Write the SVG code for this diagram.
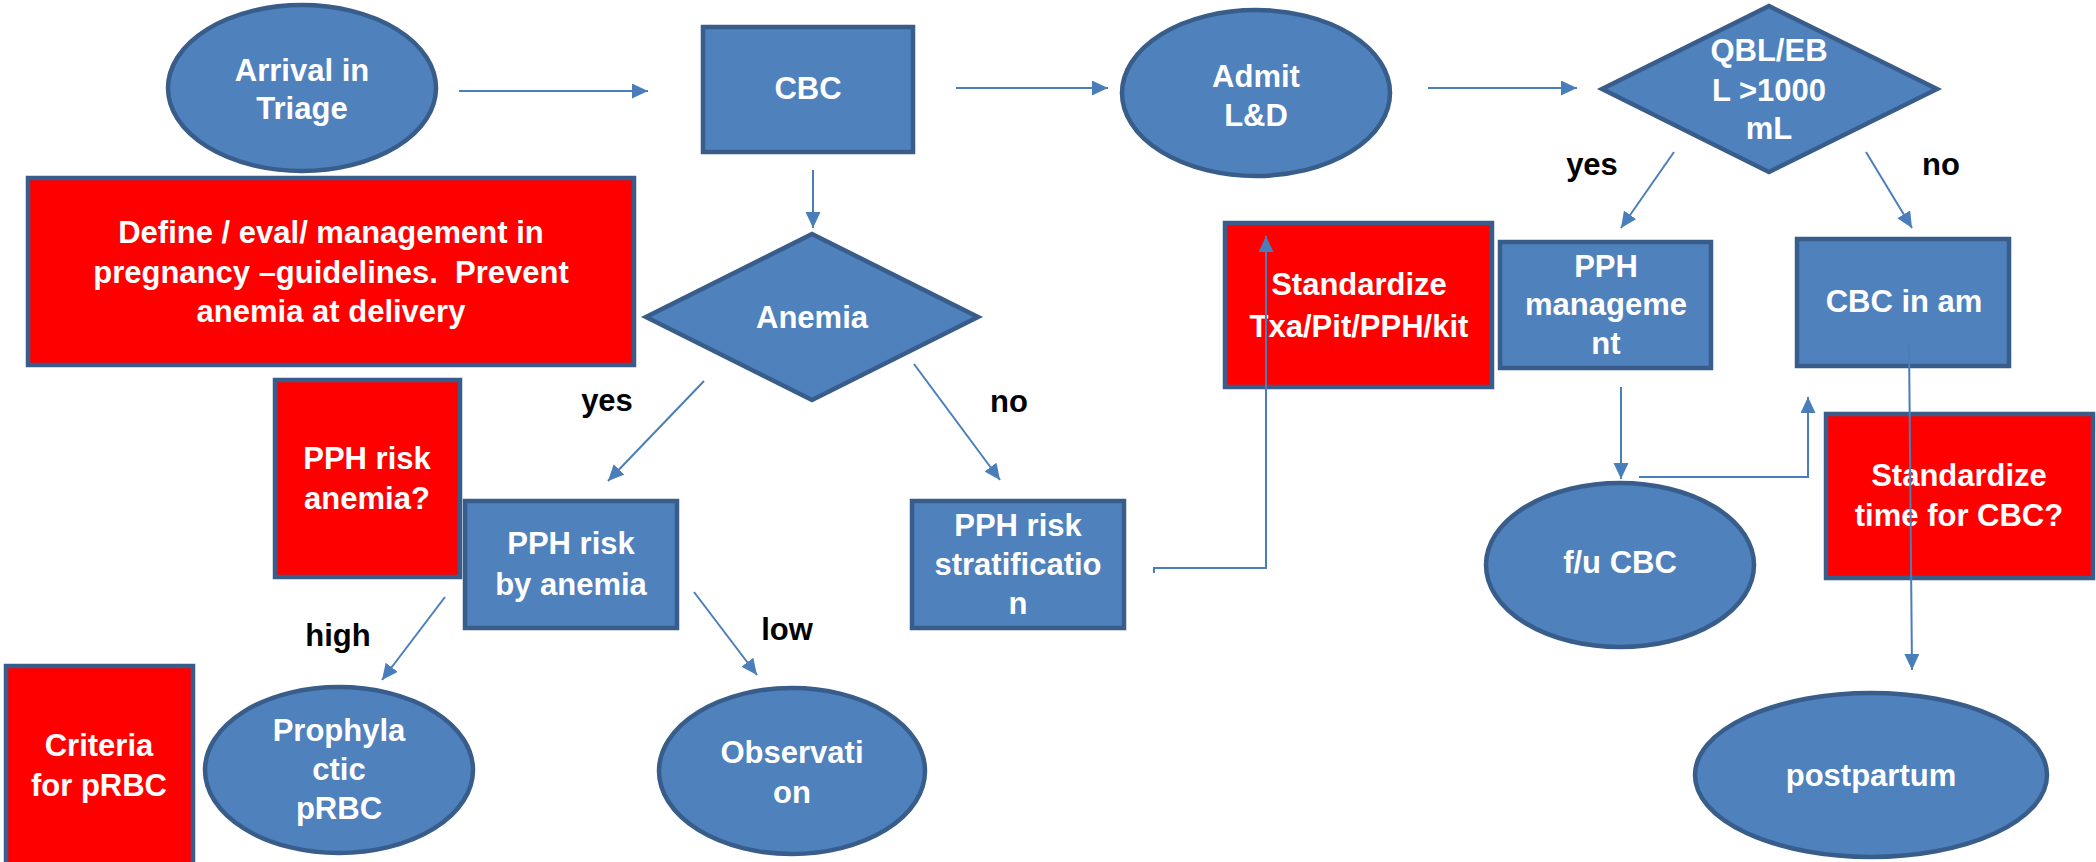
<svg xmlns="http://www.w3.org/2000/svg" width="2096" height="862" viewBox="0 0 2096 862">
<style>
.b{fill:#4F81BD;stroke:#385D8A;stroke-width:4.5}
.r{fill:#FF0000;stroke:#385D8A;stroke-width:4.5}
.t{font-family:"Liberation Sans",Arial,sans-serif;font-weight:bold;font-size:31px;fill:#FFFFFF;text-anchor:middle}
.l{font-family:"Liberation Sans",Arial,sans-serif;font-weight:bold;font-size:31px;fill:#000000;text-anchor:middle}
.c{fill:none;stroke:#4A7EBB;stroke-width:2}
.a{marker-end:url(#ah)}
</style>
<defs>
<marker id="ah" markerUnits="userSpaceOnUse" markerWidth="17" markerHeight="16" refX="16" refY="7.5" orient="auto">
<path d="M0,0 L16,7.5 L0,15 z" fill="#4A7EBB"/>
</marker>
</defs>
<rect width="2096" height="862" fill="#FFFFFF"/>

<g id="arrival">
<ellipse class="b" cx="302" cy="88" rx="134" ry="83"/>
<text class="t" x="302" y="81">Arrival in</text>
<text class="t" x="302" y="119">Triage</text>
</g>
<g id="cbc">
<rect class="b" x="703" y="27" width="210" height="125"/>
<text class="t" x="808" y="99">CBC</text>
</g>
<g id="admit">
<ellipse class="b" cx="1256" cy="93" rx="134" ry="83"/>
<text class="t" x="1256" y="87">Admit</text>
<text class="t" x="1256" y="126">L&amp;D</text>
</g>
<g id="qbl">
<polygon class="b" points="1769,6 1937,89 1769,172 1602,89"/>
<text class="t" x="1769" y="61">QBL/EB</text>
<text class="t" x="1769" y="101">L &gt;1000</text>
<text class="t" x="1769" y="139">mL</text>
</g>
<g id="define">
<rect class="r" x="28" y="178" width="606" height="187"/>
<text class="t" x="331" y="243">Define / eval/ management in</text>
<text class="t" x="331" y="283" xml:space="preserve" style="white-space:pre">pregnancy –guidelines.  Prevent</text>
<text class="t" x="331" y="322">anemia at delivery</text>
</g>
<g id="anemia">
<polygon class="b" points="812,234 978,317 812,400 646,317"/>
<text class="t" x="812" y="328">Anemia</text>
</g>
<g id="pph-risk-anemia-q">
<rect class="r" x="275" y="380" width="185" height="197"/>
<text class="t" x="367" y="469">PPH risk</text>
<text class="t" x="367" y="509">anemia?</text>
</g>
<g id="pph-risk-by-anemia">
<rect class="b" x="465" y="501" width="212" height="127"/>
<text class="t" x="571" y="554">PPH risk</text>
<text class="t" x="571" y="595">by anemia</text>
</g>
<g id="pph-risk-strat">
<rect class="b" x="912" y="501" width="212" height="127"/>
<text class="t" x="1018" y="536">PPH risk</text>
<text class="t" x="1018" y="575">stratificatio</text>
<text class="t" x="1018" y="614">n</text>
</g>
<g id="criteria">
<rect class="r" x="6" y="666" width="187" height="210"/>
<text class="t" x="99" y="756">Criteria</text>
<text class="t" x="99" y="796">for pRBC</text>
</g>
<g id="prophylactic">
<ellipse class="b" cx="339" cy="770" rx="134" ry="83"/>
<text class="t" x="339" y="741">Prophyla</text>
<text class="t" x="339" y="780">ctic</text>
<text class="t" x="339" y="819">pRBC</text>
</g>
<g id="observation">
<ellipse class="b" cx="792" cy="771" rx="133" ry="83"/>
<text class="t" x="792" y="763">Observati</text>
<text class="t" x="792" y="803">on</text>
</g>
<g id="std-txa">
<rect class="r" x="1225" y="223" width="267" height="164"/>
<text class="t" x="1359" y="295">Standardize</text>
<text class="t" x="1359" y="337">Txa/Pit/PPH/kit</text>
</g>
<g id="pph-mgmt">
<rect class="b" x="1500" y="242" width="211" height="126"/>
<text class="t" x="1606" y="277">PPH</text>
<text class="t" x="1606" y="315">manageme</text>
<text class="t" x="1606" y="354">nt</text>
</g>
<g id="cbc-am">
<rect class="b" x="1797" y="239" width="212" height="127"/>
<text class="t" x="1904" y="312">CBC in am</text>
</g>
<g id="fu-cbc">
<ellipse class="b" cx="1620" cy="565" rx="134" ry="82"/>
<text class="t" x="1620" y="573">f/u CBC</text>
</g>
<g id="std-time">
<rect class="r" x="1826" y="414" width="267" height="164"/>
<text class="t" x="1959" y="486">Standardize</text>
<text class="t" x="1959" y="526">time for CBC?</text>
</g>
<g id="postpartum">
<ellipse class="b" cx="1871" cy="775" rx="176" ry="82"/>
<text class="t" x="1871" y="786">postpartum</text>
</g>

<g id="connectors">
<line class="c a" x1="459" y1="91" x2="648" y2="91"/>
<line class="c a" x1="956" y1="88" x2="1108" y2="88"/>
<line class="c a" x1="1428" y1="88" x2="1577" y2="88"/>
<line class="c a" x1="813" y1="170" x2="813" y2="228"/>
<line class="c a" x1="704" y1="381" x2="608" y2="481"/>
<line class="c a" x1="914" y1="364" x2="1000" y2="480"/>
<line class="c a" x1="445" y1="597" x2="382" y2="680"/>
<line class="c a" x1="694" y1="592" x2="757" y2="675"/>
<line class="c a" x1="1674" y1="152" x2="1621" y2="228"/>
<line class="c a" x1="1866" y1="152" x2="1912" y2="228"/>
<polyline class="c a" points="1154,573 1154,568 1266,568 1266,236"/>
<line class="c a" x1="1621" y1="387" x2="1621" y2="479"/>
<polyline class="c a" points="1639,477 1808,477 1808,397"/>
<line class="c a" x1="1909" y1="343" x2="1912" y2="670"/>
</g>
<g id="labels">
<text class="l" x="607" y="411">yes</text>
<text class="l" x="1009" y="412">no</text>
<text class="l" x="338" y="646">high</text>
<text class="l" x="787" y="640">low</text>
<text class="l" x="1592" y="175">yes</text>
<text class="l" x="1941" y="175">no</text>
</g>
</svg>
